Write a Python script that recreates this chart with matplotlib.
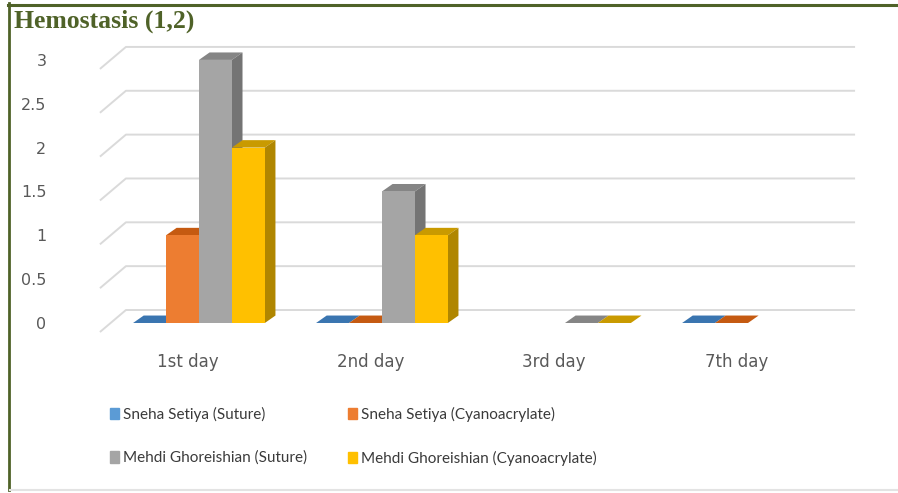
import numpy as np
import matplotlib.pyplot as plt
from matplotlib.patches import Polygon, Patch
from matplotlib.lines import Line2D

# データ
categories = ["1st day", "2nd day", "3rd day", "7th day"]
series_names = [
    "Sneha Setiya (Suture)",
    "Sneha Setiya (Cyanoacrylate)",
    "Mehdi Ghoreishian (Suture)",
    "Mehdi Ghoreishian (Cyanoacrylate)",
]
setiya_suture = [0, 0, np.nan, 0]
setiya_cyano = [1, 0, np.nan, 0]
ghoreishian_suture = [3, 1.5, 0, np.nan]
ghoreishian_cyano = [2, 1, 0, np.nan]
y_ticks = [0, 0.5, 1, 1.5, 2, 2.5, 3]
y_tick_labels = ["0", "0.5", "1", "1.5", "2", "2.5", "3"]

series = [setiya_suture, setiya_cyano, ghoreishian_suture, ghoreishian_cyano]
# 前面・上面・側面の色
colors = [
    ("#5b9bd5", "#3a75b0", "#2f5f8f"),
    ("#ed7d31", "#c55a11", "#b04f16"),
    ("#a5a5a5", "#858585", "#747474"),
    ("#ffc000", "#c99a00", "#b08600"),
]

W, H = 898, 493
fig = plt.figure(figsize=(W / 100, H / 100), dpi=100)

# プロット領域 (ピクセル指定)
left, right, top, bottom = 95, 860, 30, 340
ax = fig.add_axes([left / W, 1 - bottom / H, (right - left) / W, (bottom - top) / H])
ax.set_xlim(-0.568, 3.612)
ax.set_ylim(-0.194, 3.341)
for s in ax.spines.values():
    s.set_visible(False)

# 奥の壁のグリッド線
for v in y_ticks:
    ax.plot([-0.541, -0.399, 3.585], [v - 0.103, v + 0.148, v + 0.148],
            color="#dadada", lw=1.4, zorder=1, solid_capstyle="butt")

# 3D風の棒
w = 0.18
ddx, ddy = 0.058, 0.085
x = np.arange(len(categories))
for j, vals in enumerate(series):
    front, top_c, side_c = colors[j]
    xpos = x + (j - 1.5) * w
    z = 3 + j * 0.1
    ax.bar(xpos, vals, width=w, color=front, lw=0, zorder=z + 0.05)
    for xc, v in zip(xpos, vals):
        if np.isnan(v):
            continue
        x0, x1 = xc - w / 2, xc + w / 2
        ax.add_patch(Polygon([(x0, v), (x1, v), (x1 + ddx, v + ddy), (x0 + ddx, v + ddy)],
                             closed=True, fc=top_c, ec="none", zorder=z))
        if v > 0:
            ax.add_patch(Polygon([(x1, 0), (x1 + ddx, ddy), (x1 + ddx, v + ddy), (x1, v)],
                                 closed=True, fc=side_c, ec="none", zorder=z))

# 軸ラベル
ax.set_xticks([])
ax.set_yticks(y_ticks)
ax.set_yticklabels(y_tick_labels, fontsize=11.5, color="#595959", family="DejaVu Sans")
ax.tick_params(axis="y", length=0, pad=35)
for i, c in enumerate(categories):
    ax.text(i - 0.06, -0.45, c, ha="center", va="center", fontsize=12,
            color="#595959", family="DejaVu Sans", clip_on=False)

# タイトル
fig.text(14 / W, 1 - 21 / H, "Hemostasis (1,2)", ha="left", va="center",
         fontsize=18.5, fontweight="bold", color="#4f6228", family="Liberation Serif")

# 凡例 (行優先の並び)
order = [0, 2, 1, 3]
handles = [Patch(color=colors[j][0]) for j in order]
labels = [series_names[j] for j in order]
fig.legend(handles, labels, ncol=2, loc="upper left",
           bbox_to_anchor=(96 / W, 1 - 393 / H), frameon=False,
           prop={"family": "Lato", "size": 11},
           labelcolor="#3a3a3a", handlelength=0.6, handleheight=0.8,
           handletextpad=0.25, labelspacing=1.9, columnspacing=2.7)

# 枠線
fig.add_artist(Line2D([9 / W, 9 / W], [1 - 490 / H, 1 - 3 / H], color="#4f6228",
                      lw=2, transform=fig.transFigure))
fig.add_artist(Line2D([8 / W, 1], [1 - 4.5 / H, 1 - 4.5 / H], color="#4f6228",
                      lw=2.2, transform=fig.transFigure))
fig.add_artist(Line2D([10 / W, 1], [1 - 490 / H, 1 - 490 / H], color="#e3e3e3",
                      lw=1.5, transform=fig.transFigure))

fig.savefig("out.png", dpi=100)
plt.close(fig)
